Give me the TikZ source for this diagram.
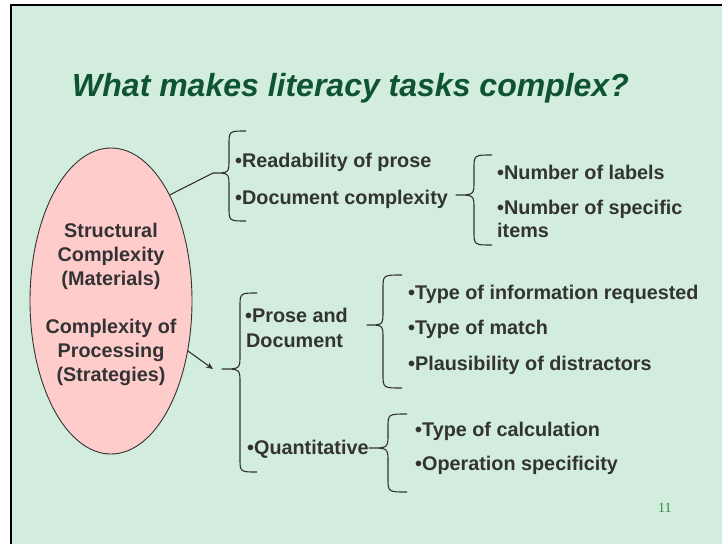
\documentclass[tikz,border=0pt]{standalone}
\usepackage{fontspec}
\setmainfont{Liberation Sans}
\newfontfamily\numfont{Liberation Serif}
\usetikzlibrary{shapes.geometric,arrows.meta}

\definecolor{slidebg}{HTML}{D2ECDD}
\definecolor{inkgray}{HTML}{333333}
\definecolor{titlegreen}{HTML}{0E5430}
\definecolor{pinkfill}{HTML}{FFCCCC}
\definecolor{pagegreen}{HTML}{2E8B3C}

% Left curly brace: #1 name of tip, #2 tip x, #3 tip y, #4 spine x,
% #5 top y, #6 bottom y, #7 x of the hooked ends
\newcommand\curlybrace[7]{%
  \coordinate (#1) at (#2,#3);
  \draw[bracestyle] (#7,#5) .. controls (#4,#5) .. (#4,#5+14)
    -- (#4,#3-14) .. controls (#4,#3) .. (#1)
    .. controls (#4,#3) .. (#4,#3+14)
    -- (#4,#6-14) .. controls (#4,#6) .. (#7,#6);
}

\begin{document}
\begin{tikzpicture}[x=1pt,y=-1pt,
  bracestyle/.style={draw=inkgray, line width=1.1pt, line join=round},
  item/.style={anchor=base west, inner sep=0pt, text=inkgray,
    font=\fontsize{19.8}{24}\selectfont\bfseries},
  ovaltext/.style={anchor=base, inner sep=0pt, text=inkgray,
    font=\fontsize{19.8}{24}\selectfont\bfseries},
  link/.style={draw=inkgray, line width=1.1pt}]

\useasboundingbox (0,0) rectangle (722,544);
\fill[white] (0,0) rectangle (722,544);
\fill[slidebg] (10,4) rectangle (722,544);
\draw[black, line width=2.2pt] (11,544) -- (11,5) -- (722,5);

% title
\node[anchor=base west, inner sep=0pt, text=titlegreen,
  font=\fontsize{32}{38}\selectfont\bfseries\itshape] (title) at (72,96)
  {What makes literacy tasks complex?};

% central oval
\node[ellipse, draw=inkgray, line width=0.9pt, fill=pinkfill,
  minimum width=162pt, minimum height=306pt, inner sep=0pt] (el) at (111,301) {};
\node[ovaltext] (o1) at (111,237) {Structural};
\node[ovaltext] (o2) at (111,261) {Complexity};
\node[ovaltext] (o3) at (111,285) {(Materials)};
\node[ovaltext] (o4) at (111,333) {Complexity of};
\node[ovaltext] (o5) at (111,357) {Processing};
\node[ovaltext] (o6) at (111,381) {(Strategies)};

% braces
\curlybrace{tipA}{213}{173}{229}{131}{221}{246}
\curlybrace{tipB}{456}{195}{474}{155}{245}{492}
\curlybrace{tipC}{222}{369}{240}{293}{472}{257}
\curlybrace{tipD}{367}{325}{383}{275}{388}{402}
\curlybrace{tipE}{369}{448}{388}{414}{492}{407}

% connectors from the oval
\draw[link] (el.61) -- (tipA);
\coordinate (arrowend) at (213,369);
\draw[link, -{Stealth[length=7pt,width=6pt]}] (el.-33) -- (arrowend);

% structural branch
\node[item] (read) at (235,167) {•Readability of prose};
\node[item] (doc) at (235,204) {•Document complexity};
\node[item] (lab) at (497,179) {•Number of labels};
\node[item] (spec) at (497,214) {•Number of specific};
\node[item] (items) at (497,237) {items};

% processing branch
\node[item] (prose) at (245,322) {•Prose and};
\node[item] (prose2) at (246,347) {Document};
\node[item] (info) at (408,299) {•Type of information requested};
\node[item] (match) at (408,334) {•Type of match};
\node[item] (plaus) at (408,370) {•Plausibility of distractors};
\node[item] (quant) at (247,454) {•Quantitative};
\node[item] (calc) at (415,436) {•Type of calculation};
\node[item] (oper) at (415,470) {•Operation specificity};

% page number
\node[anchor=base west, inner sep=0pt, text=pagegreen,
  font=\numfont\fontsize{14}{16}\selectfont] (pagenum) at (658,512) {11};
\end{tikzpicture}
\end{document}
